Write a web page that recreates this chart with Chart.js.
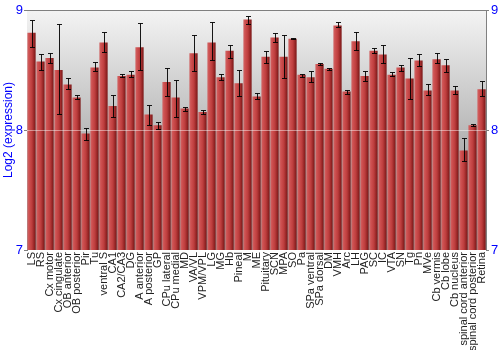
<!DOCTYPE html>
<html>
<head>
<meta charset="utf-8">
<script src="https://cdn.jsdelivr.net/npm/chart.js@4/dist/chart.umd.min.js"></script>
<style>
	body { margin: 0; background: #fff; }
	#wrap { width: 500px; height: 350px; }
</style>
</head>
<body>
<div id="wrap"><canvas id="myChart" width="500" height="350"></canvas></div>
<script>
const regions = ["LS", "RS", "Cx motor", "Cx cingulate", "OB anterior", "OB posterior", "Pir", "Tu",
	"ventral S", "CA1", "CA2/CA3", "DG", "A anterior", "A posterior", "GP", "CPu lateral", "CPu medial",
	"MD", "VA/VL", "VPM/VPL", "LG", "MG", "Hb", "Pineal", "M", "ME", "Pituitary", "SCN", "MPA", "SO",
	"Pa", "SPa ventral", "SPa dorsal", "DM", "VMH", "Arc", "LH", "PAG", "SC", "IC", "VTA", "SN", "Tg",
	"Pn", "MVe", "Cb vermis", "Cb lobe", "Cb nucleus", "spinal cord anterior", "spinal cord posterior", "Retina"];

const expression = [8.81, 8.57, 8.60, 8.50, 8.38, 8.27, 7.97, 8.52, 8.73, 8.20, 8.45, 8.46, 8.69, 8.13,
	8.04, 8.40, 8.27, 8.18, 8.64, 8.15, 8.73, 8.44, 8.66, 8.39, 8.92, 8.28, 8.61, 8.77, 8.61, 8.76,
	8.46, 8.44, 8.55, 8.51, 8.87, 8.32, 8.74, 8.45, 8.66, 8.63, 8.46, 8.52, 8.43, 8.58, 8.33, 8.59,
	8.54, 8.33, 7.83, 8.04, 8.34];

const errHigh = [8.92, 8.63, 8.64, 8.88, 8.43, 8.29, 8.02, 8.57, 8.82, 8.29, 8.47, 8.49, 8.89, 8.21,
	8.07, 8.52, 8.42, 8.19, 8.79, 8.17, 8.90, 8.47, 8.71, 8.50, 8.95, 8.31, 8.66, 8.81, 8.79, 8.77,
	8.47, 8.49, 8.56, 8.52, 8.90, 8.33, 8.82, 8.49, 8.68, 8.71, 8.48, 8.54, 8.60, 8.63, 8.38, 8.64,
	8.59, 8.37, 7.93, 8.05, 8.41];

const errLow = [8.69, 8.50, 8.56, 8.13, 8.34, 8.26, 7.92, 8.49, 8.65, 8.11, 8.44, 8.44, 8.50, 8.04,
	8.01, 8.28, 8.11, 8.16, 8.49, 8.13, 8.58, 8.42, 8.60, 8.28, 8.88, 8.26, 8.56, 8.73, 8.43, 8.76,
	8.44, 8.40, 8.54, 8.50, 8.86, 8.30, 8.67, 8.41, 8.64, 8.56, 8.45, 8.49, 8.26, 8.53, 8.29, 8.56,
	8.48, 8.30, 7.74, 8.03, 8.28];

const yTicks = [7, 8, 9];

const fontFamily = "'Liberation Sans', Arial, sans-serif";

// gray gradient behind the plot, plus border on top
const backdrop = {
	id: "backdrop",
	beforeDatasetsDraw(chart) {
		const { ctx, chartArea: a } = chart;
		const g = ctx.createLinearGradient(0, a.top, 0, a.bottom);
		g.addColorStop(0, "#f4f4f4");
		g.addColorStop(0.55, "#b4b4b4");
		g.addColorStop(1, "#8c8c8c");
		ctx.save();
		ctx.fillStyle = g;
		ctx.fillRect(a.left, a.top, a.right - a.left, a.bottom - a.top);
		ctx.restore();
	},
	afterDatasetsDraw(chart) {
		const { ctx, chartArea: a } = chart;
		const y = chart.scales.y;
		ctx.save();
		// faint line at 8
		ctx.strokeStyle = "rgba(255,255,255,0.45)";
		ctx.lineWidth = 1;
		const y8 = Math.round(y.getPixelForValue(8)) + 0.5;
		ctx.beginPath();
		ctx.moveTo(a.left, y8);
		ctx.lineTo(a.right, y8);
		ctx.stroke();
		// error bars
		const meta = chart.getDatasetMeta(0);
		ctx.strokeStyle = "rgba(0,0,0,0.9)";
		meta.data.forEach((bar, i) => {
			const x = Math.round(bar.x) + 0.5;
			const hi = Math.round(y.getPixelForValue(errHigh[i])) + 0.5;
			const lo = Math.round(y.getPixelForValue(errLow[i])) + 0.5;
			ctx.beginPath();
			ctx.moveTo(x, hi);
			ctx.lineTo(x, lo);
			ctx.moveTo(x - 2.5, hi);
			ctx.lineTo(x + 2.5, hi);
			ctx.moveTo(x - 2.5, lo);
			ctx.lineTo(x + 2.5, lo);
			ctx.stroke();
		});
		// top border
		ctx.strokeStyle = "#808080";
		ctx.beginPath();
		ctx.moveTo(a.left, Math.round(a.top) + 0.5);
		ctx.lineTo(a.right, Math.round(a.top) + 0.5);
		ctx.stroke();
		ctx.restore();
	},
};

function barFill(context) {
	const chart = context.chart;
	if (!chart.chartArea) return "#b83a3a";
	const x = chart.scales.x.getPixelForValue(context.dataIndex);
	const w = 4.2;
	const g = chart.ctx.createLinearGradient(x - w, 0, x + w, 0);
	g.addColorStop(0, "#d06a6a");
	g.addColorStop(0.2, "#cf5252");
	g.addColorStop(0.55, "#bd3d3d");
	g.addColorStop(0.85, "#8f2222");
	g.addColorStop(1, "#7a1818");
	return g;
}

const ctx = document.getElementById("myChart");

new Chart(ctx, {
	type: "bar",
	data: {
		labels: regions,
		datasets: [
			{
				data: expression,
				backgroundColor: barFill,
				borderWidth: 0,
				barPercentage: 0.92,
				categoryPercentage: 1,
				yAxisID: "y",
			},
		],
	},
	options: {
		responsive: false,
		animation: false,
		layout: { padding: { top: 10, left: 0, right: 0, bottom: 0 } },
		plugins: {
			legend: { display: false },
			tooltip: { enabled: false },
		},
		scales: {
			x: {
				grid: { display: false, tickLength: 0 },
				border: { display: false },
				ticks: {
					autoSkip: false,
					minRotation: 90,
					maxRotation: 90,
					padding: 2,
					color: "#222",
					font: { family: fontFamily, size: 11 },
				},
				afterFit(scale) {
					scale.height = 100;
				},
			},
			y: {
				position: "left",
				min: 7,
				max: 9,
				afterBuildTicks(scale) {
					scale.ticks = yTicks.map((v) => ({ value: v }));
				},
				grid: { drawOnChartArea: false, tickLength: 3, color: "#808080" },
				border: { color: "#808080" },
				ticks: {
					padding: 1,
					color: "#0000ff",
					font: { family: fontFamily, size: 13 },
				},
				title: {
					display: true,
					text: "Log2 (expression)",
					color: "#0000ff",
					padding: { top: 1, bottom: 0 },
					font: { family: fontFamily, size: 12 },
				},
				afterFit(scale) {
					scale.width = 27;
				},
			},
			y2: {
				position: "right",
				min: 7,
				max: 9,
				afterBuildTicks(scale) {
					scale.ticks = yTicks.map((v) => ({ value: v }));
				},
				grid: { drawOnChartArea: false, tickLength: 3, color: "#808080" },
				border: { color: "#808080" },
				ticks: {
					padding: 2,
					color: "#0000ff",
					font: { family: fontFamily, size: 13 },
				},
				afterFit(scale) {
					scale.width = 14;
				},
			},
		},
	},
	plugins: [backdrop],
});
</script>
</body>
</html>
